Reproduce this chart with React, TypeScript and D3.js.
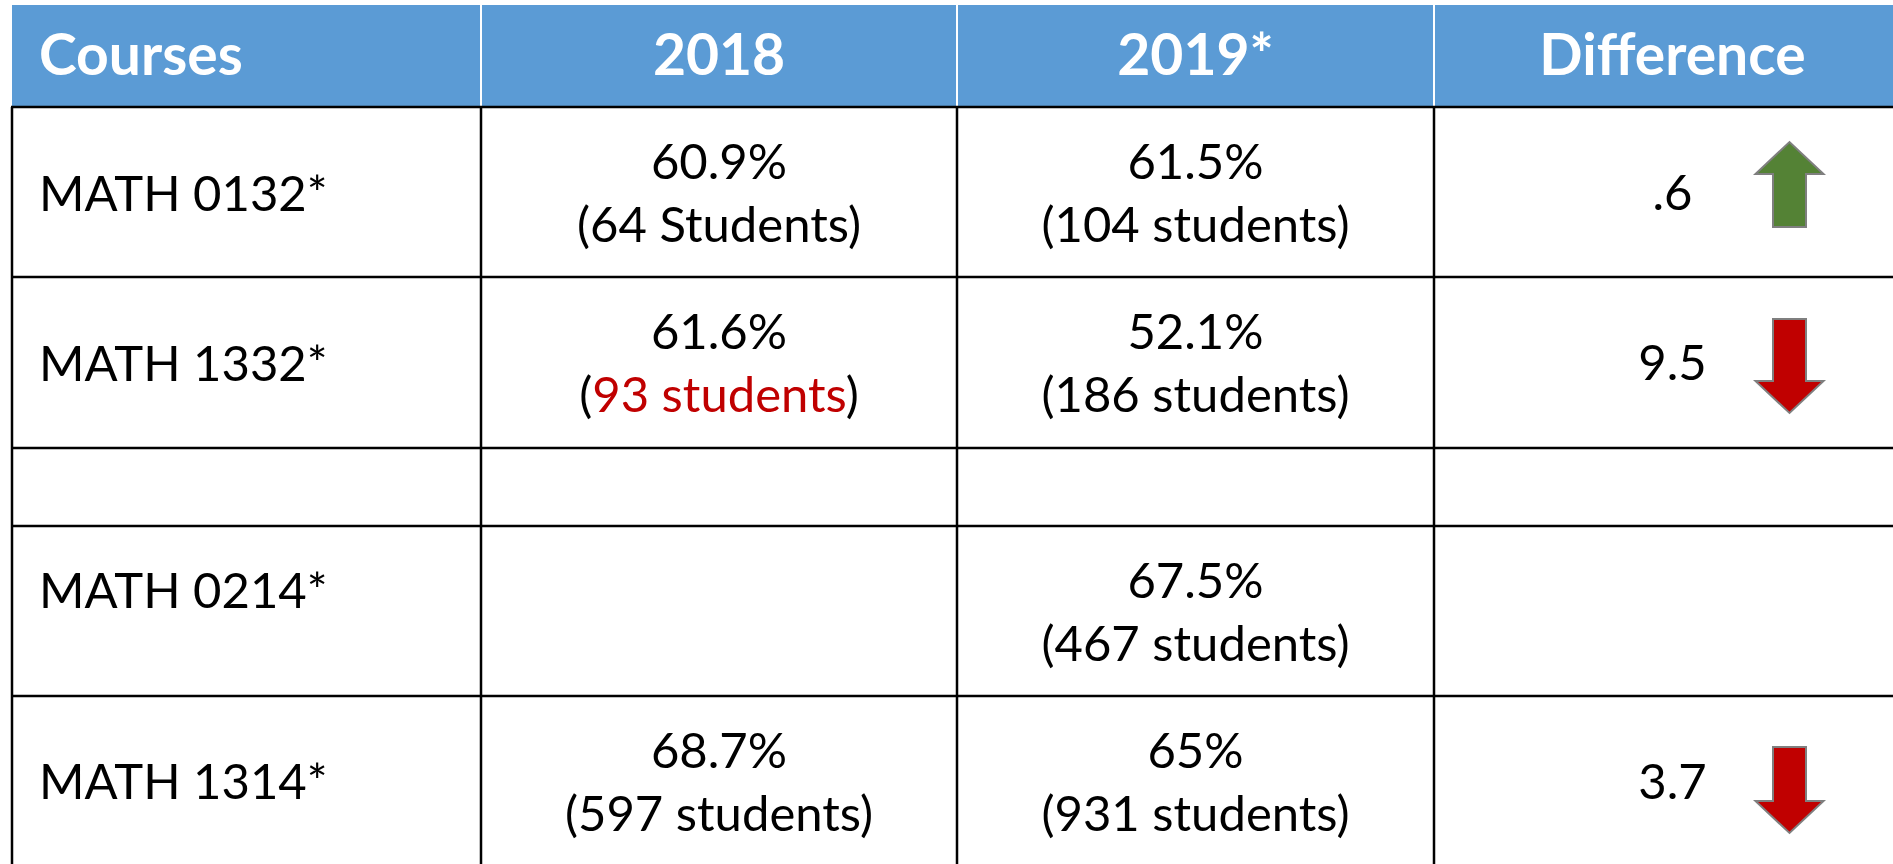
import React from 'react';
import * as d3 from 'd3';

// table contents
const headers = ['Courses', '2018', '2019*', 'Difference'];
const courses = ['MATH 0132*', 'MATH 1332*', '', 'MATH 0214*', 'MATH 1314*'];
const pct2018: (number | null)[] = [60.9, 61.6, null, null, 68.7];
const pct2019: (number | null)[] = [61.5, 52.1, null, 67.5, 65];
const n2018: (number | null)[] = [64, 93, null, null, 597];
const n2019: (number | null)[] = [104, 186, null, 467, 931];
const word2018 = ['Students', 'students', '', '', 'students'];
const flagged2018 = [false, true, false, false, false]; // red count
const diffLabels = ['.6', '9.5', '', '', '3.7'];

// layout (px)
const W = 1893;
const H = 864;
const colEdges = [12, 481, 957, 1434, 1911];
const rowEdges = [5, 107, 277, 448, 526, 696, 866];
const courseBase = [104, 104, 0, 82, 103]; // baseline offset from row top
const arrowGeom = [
  { start: 120, head: 67, tip: 35 },
  { start: 42, head: 104, tip: 136 },
  null,
  null,
  { start: 51, head: 105, tip: 137 },
];

const FONT = 'Lato, Calibri, Carlito, sans-serif';
const BODY = 49;
const HEAD = 57;
const BLUE = '#5B9BD5';
const RED = '#C00000';
const GREEN = '#548235';

const App = () => {
  const x = d3.scaleLinear().domain(d3.range(colEdges.length)).range(colEdges);
  const y = d3.scaleLinear().domain(d3.range(rowEdges.length)).range(rowEdges);
  const cx = (c: number) => (x(c) + x(c + 1)) / 2;

  const arrowPath = (row: number, up: boolean) => {
    const g = arrowGeom[row]!;
    const top = y(row + 1);
    const mid = x(3) + 355.5;
    const hw = 34;
    const sw = 16.5;
    const p = d3.path();
    p.moveTo(mid - sw, top + g.start);
    p.lineTo(mid - sw, top + g.head);
    p.lineTo(mid - hw, top + g.head);
    p.lineTo(mid, top + g.tip);
    p.lineTo(mid + hw, top + g.head);
    p.lineTo(mid + sw, top + g.head);
    p.lineTo(mid + sw, top + g.start);
    p.closePath();
    return { d: p.toString(), fill: up ? GREEN : RED };
  };

  const twoLine = (c: number, row: number, pct: number | null, n: number | null, word: string, red: boolean) => {
    if (pct == null) return null;
    const top = y(row + 1);
    return (
      <g key={`c${c}-${row}`}>
        <text x={cx(c)} y={top + 71.5} textAnchor="middle">{`${pct}%`}</text>
        <text x={cx(c)} y={top + 135} textAnchor="middle">
          <tspan>(</tspan>
          <tspan fill={red ? RED : '#000'}>{`${n} ${word}`}</tspan>
          <tspan>)</tspan>
        </text>
      </g>
    );
  };

  const bodyRows = d3.range(courses.length);

  return (
    <svg width={W} height={H} style={{ position: 'absolute', left: 0, top: 0, background: '#fff' }}>
      {/* header band */}
      <rect x={x(0)} y={y(0)} width={x(4) - x(0)} height={y(1) - y(0)} fill={BLUE} />
      {[1, 2, 3].map(c => (
        <line key={`hs${c}`} x1={x(c)} x2={x(c)} y1={y(0)} y2={y(1)} stroke="#fff" strokeWidth={2} />
      ))}
      <g fontFamily={FONT} fontWeight={700} fontSize={HEAD} fill="#fff">
        {headers.map((h, c) => (
          <text key={h} x={c === 0 ? 39 : cx(c)} y={75} textAnchor={c === 0 ? 'start' : 'middle'}>{h}</text>
        ))}
      </g>

      {/* grid */}
      <g stroke="#000" strokeWidth={2.5}>
        {d3.range(1, rowEdges.length - 1).map(r => (
          <line key={`h${r}`} x1={x(0) - 1} x2={x(4)} y1={y(r)} y2={y(r)} />
        ))}
        {[0, 1, 2, 3].map(c => (
          <line key={`v${c}`} x1={x(c)} x2={x(c)} y1={y(1)} y2={y(6)} />
        ))}
      </g>

      {/* body text */}
      <g fontFamily={FONT} fontSize={BODY} fill="#000">
        {bodyRows.map(r => courses[r] ? (
          <text key={`course${r}`} x={39} y={y(r + 1) + courseBase[r]}>{courses[r]}</text>
        ) : null)}
        {bodyRows.map(r => twoLine(1, r, pct2018[r], n2018[r], word2018[r], flagged2018[r]))}
        {bodyRows.map(r => twoLine(2, r, pct2019[r], n2019[r], 'students', false))}
        {bodyRows.map(r => diffLabels[r] ? (
          <text key={`diff${r}`} x={cx(3)} y={y(r + 1) + 103} textAnchor="middle">{diffLabels[r]}</text>
        ) : null)}
      </g>

      {/* change arrows */}
      {bodyRows.map(r => {
        const a = pct2018[r];
        const b = pct2019[r];
        if (a == null || b == null || !arrowGeom[r]) return null;
        const { d, fill } = arrowPath(r, b > a);
        return <path key={`arrow${r}`} d={d} fill={fill} stroke="#7F7F7F" strokeWidth={2} />;
      })}
    </svg>
  );
};

export default App;
